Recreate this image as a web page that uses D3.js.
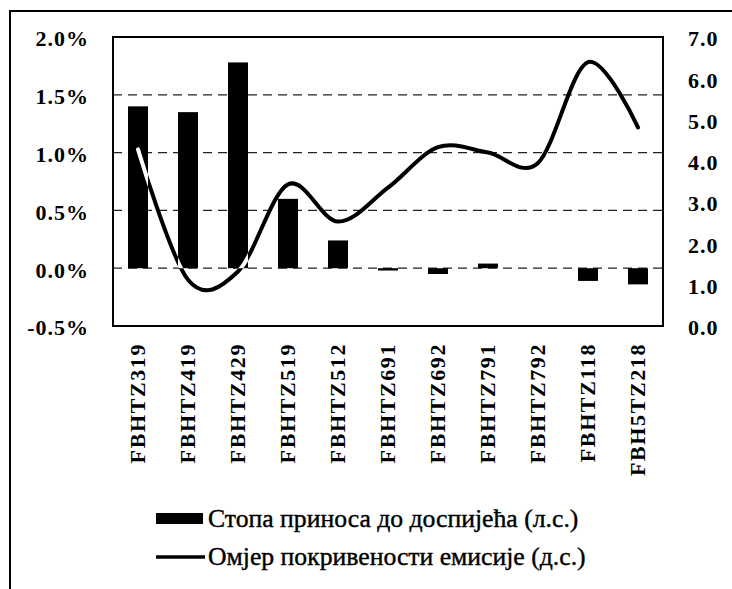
<!DOCTYPE html>
<html>
<head>
<meta charset="utf-8">
<script src="https://cdn.jsdelivr.net/npm/d3@7"></script>
<style>
  html, body { margin: 0; padding: 0; background: #fff; }
  svg { display: block; }
  text { font-family: "Liberation Serif", "Times New Roman", serif; fill: #000; }
</style>
</head>
<body>
<svg id="chart" width="732" height="589"></svg>
<script>
// Treasury bill issues
const categories = ["FBHTZ319", "FBHTZ419", "FBHTZ429", "FBHTZ519", "FBHTZ512", "FBHTZ691",
                    "FBHTZ692", "FBHTZ791", "FBHTZ792", "FBHTZ118", "FBH5TZ218"];
// Yield to maturity, % (left axis)
const yieldValues = [1.40, 1.35, 1.78, 0.60, 0.24, -0.02, -0.05, 0.04, 0.00, -0.11, -0.14];
// Issue coverage ratio (right axis)
const coverageValues = [4.28, 1.12, 1.32, 3.43, 2.53, 3.35, 4.33, 4.20, 3.95, 6.39, 4.81];
const leftTicks = [-0.5, 0.0, 0.5, 1.0, 1.5, 2.0];
const rightTicks = [0, 1, 2, 3, 4, 5, 6, 7];
const legendLabels = ["Стопа приноса до доспијећа (л.с.)", "Омјер покривености емисије (д.с.)"];

const svg = d3.select("#chart");
const plot = { left: 113, top: 37, right: 663, bottom: 326 };

// plain hyphen for negative numbers
const fmt = d3.formatLocale({ decimal: ".", thousands: ",", grouping: [3], currency: ["", ""], minus: "-" }).format(".1f");

const x = d3.scaleBand().domain(categories).range([plot.left, plot.right]).padding(0);
const yL = d3.scaleLinear().domain([-0.5, 2.0]).range([plot.bottom, plot.top]);
const yR = d3.scaleLinear().domain([0, 7]).range([plot.bottom, plot.top]);

// outer frame
svg.append("rect")
  .attr("x", 10).attr("y", 11).attr("width", 760).attr("height", 640)
  .attr("fill", "none").attr("stroke", "#000").attr("stroke-width", 2);

// dashed gridlines at the inner left-axis ticks
svg.append("g").selectAll("line")
  .data(leftTicks.filter(d => d > -0.5 && d < 2.0))
  .join("line")
  .attr("x1", plot.left).attr("x2", plot.right)
  .attr("y1", d => yL(d)).attr("y2", d => yL(d))
  .attr("stroke", "#222").attr("stroke-width", 1.3)
  .attr("stroke-dasharray", "9,6");

// yield bars
const barW = x.bandwidth() * 0.4;
const barData = categories.map((c, i) => ({ c, v: yieldValues[i] }));
const barAttrs = sel => sel
  .attr("x", d => x(d.c) + (x.bandwidth() - barW) / 2)
  .attr("width", barW)
  .attr("y", d => yL(Math.max(0, d.v)))
  .attr("height", d => Math.abs(yL(d.v) - yL(0)));

svg.append("g").selectAll("rect").data(barData).join("rect")
  .call(barAttrs).attr("fill", "#000");

// clip to bars so the coverage line shows white where it crosses them
svg.append("defs").append("clipPath").attr("id", "barclip")
  .selectAll("rect").data(barData).join("rect").call(barAttrs);

const line = d3.line()
  .x((d, i) => x(categories[i]) + x.bandwidth() / 2)
  .y(d => yR(d))
  .curve(d3.curveCatmullRom.alpha(0));

svg.append("path")
  .attr("d", line(coverageValues))
  .attr("fill", "none").attr("stroke", "#000").attr("stroke-width", 4)
  .attr("stroke-linejoin", "round").attr("stroke-linecap", "round");
svg.append("path")
  .attr("d", line(coverageValues))
  .attr("clip-path", "url(#barclip)")
  .attr("fill", "none").attr("stroke", "#fff").attr("stroke-width", 4)
  .attr("stroke-linecap", "round");

// plot border
svg.append("rect")
  .attr("x", plot.left).attr("y", plot.top)
  .attr("width", plot.right - plot.left).attr("height", plot.bottom - plot.top)
  .attr("fill", "none").attr("stroke", "#000").attr("stroke-width", 2);

// left axis labels
const leftAxis = d3.axisLeft(yL).tickValues(leftTicks)
  .tickFormat(d => fmt(d) + "%").tickSize(0).tickPadding(24);
svg.append("g").attr("transform", `translate(${plot.left},0)`).call(leftAxis)
  .call(g => g.select(".domain").remove())
  .selectAll("text")
  .attr("font-family", "Liberation Serif").attr("font-weight", "bold")
  .attr("font-size", 22).attr("letter-spacing", 1).attr("dy", "0.4em");

// right axis labels
const rightAxis = d3.axisRight(yR).tickValues(rightTicks)
  .tickFormat(fmt).tickSize(0).tickPadding(25);
svg.append("g").attr("transform", `translate(${plot.right},0)`).call(rightAxis)
  .call(g => g.select(".domain").remove())
  .selectAll("text")
  .attr("font-family", "Liberation Serif").attr("font-weight", "bold")
  .attr("font-size", 22).attr("letter-spacing", 1).attr("dy", "0.4em");

// category labels, rotated
const bottomAxis = d3.axisBottom(x).tickSize(0).tickPadding(0);
svg.append("g").attr("transform", `translate(0,${plot.bottom})`).call(bottomAxis)
  .call(g => g.select(".domain").remove())
  .selectAll("text")
  .attr("font-family", "Liberation Serif").attr("font-weight", "bold")
  .attr("font-size", 22).attr("letter-spacing", 1.6)
  .attr("text-anchor", "end")
  .attr("transform", "translate(-1,17) rotate(-90)")
  .attr("x", 0).attr("y", 0).attr("dy", "0.35em");

// legend
const lg = svg.append("g");
lg.append("rect").attr("x", 156).attr("y", 513).attr("width", 47).attr("height", 11).attr("fill", "#000");
lg.append("line").attr("x1", 156).attr("x2", 205).attr("y1", 557).attr("y2", 557)
  .attr("stroke", "#000").attr("stroke-width", 3.5);
lg.selectAll("text").data(legendLabels).join("text")
  .attr("x", 208).attr("y", (d, i) => 527 + i * 38)
  .attr("font-size", 25.7).attr("stroke", "#000").attr("stroke-width", 0.4)
  .text(d => d);
</script>
</body>
</html>
